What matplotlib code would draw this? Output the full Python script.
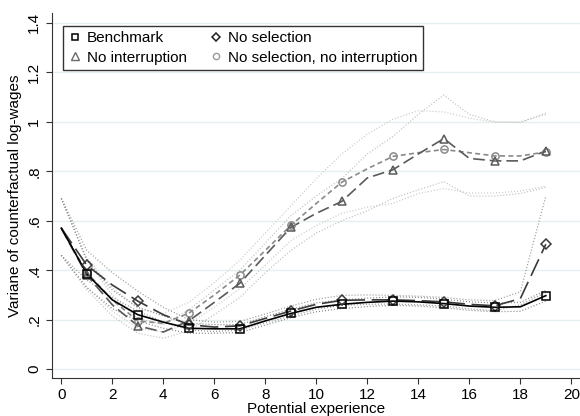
import matplotlib.pyplot as plt

plt.rcParams['font.family'] = ['Liberation Sans', 'DejaVu Sans']

exper = list(range(20))
marker_exper = list(range(1, 20, 2))

# point estimates
bench = [0.57, 0.385, 0.28, 0.22, 0.19, 0.165, 0.163, 0.163, 0.195, 0.225,
         0.25, 0.262, 0.27, 0.275, 0.272, 0.265, 0.255, 0.25, 0.252, 0.297]
nosel = [0.57, 0.42, 0.34, 0.275, 0.22, 0.18, 0.17, 0.175, 0.205, 0.235,
         0.262, 0.278, 0.28, 0.28, 0.277, 0.272, 0.262, 0.256, 0.285, 0.505]
noint = [0.57, 0.38, 0.26, 0.175, 0.15, 0.195, 0.27, 0.347, 0.46, 0.573,
         0.63, 0.678, 0.773, 0.806, 0.87, 0.932, 0.852, 0.842, 0.842, 0.882]
noboth = [0.57, 0.39, 0.28, 0.195, 0.185, 0.226, 0.30, 0.38, 0.48, 0.581,
          0.67, 0.756, 0.81, 0.86, 0.875, 0.888, 0.875, 0.862, 0.862, 0.878]

# confidence bands
bench_lo = [0.46, 0.33, 0.245, 0.195, 0.165, 0.145, 0.145, 0.148, 0.178, 0.208,
            0.232, 0.245, 0.253, 0.258, 0.255, 0.248, 0.238, 0.232, 0.234, 0.275]
bench_hi = [0.69, 0.44, 0.32, 0.25, 0.215, 0.185, 0.18, 0.18, 0.212, 0.242,
            0.268, 0.28, 0.287, 0.292, 0.29, 0.283, 0.272, 0.268, 0.27, 0.318]
nosel_lo = [0.46, 0.36, 0.29, 0.235, 0.19, 0.158, 0.152, 0.158, 0.187, 0.215,
            0.242, 0.258, 0.262, 0.263, 0.26, 0.255, 0.244, 0.236, 0.26, 0.31]
nosel_hi = [0.69, 0.48, 0.39, 0.315, 0.25, 0.2, 0.19, 0.193, 0.223, 0.255,
            0.282, 0.298, 0.3, 0.298, 0.295, 0.29, 0.28, 0.277, 0.313, 0.70]
noint_lo = [0.46, 0.32, 0.215, 0.145, 0.125, 0.155, 0.22, 0.29, 0.39, 0.48,
            0.55, 0.60, 0.64, 0.69, 0.725, 0.758, 0.70, 0.70, 0.71, 0.735]
noint_hi = [0.69, 0.44, 0.30, 0.205, 0.18, 0.24, 0.32, 0.40, 0.51, 0.62,
            0.70, 0.77, 0.87, 0.94, 1.03, 1.108, 1.03, 1.0, 0.997, 1.035]
noboth_lo = [0.46, 0.33, 0.235, 0.165, 0.15, 0.185, 0.25, 0.325, 0.42, 0.52,
             0.58, 0.63, 0.655, 0.67, 0.71, 0.73, 0.712, 0.712, 0.72, 0.74]
noboth_hi = [0.69, 0.45, 0.33, 0.245, 0.225, 0.27, 0.35, 0.44, 0.55, 0.66,
             0.77, 0.87, 0.95, 1.01, 1.045, 1.04, 1.015, 0.998, 1.0, 1.03]

yticks = [0, 0.2, 0.4, 0.6, 0.8, 1.0, 1.2, 1.4]
ytick_labels = ['0', '.2', '.4', '.6', '.8', '1', '1.2', '1.4']
xticks = list(range(0, 21, 2))

fig = plt.figure(figsize=(5.8, 4.16), dpi=100)
ax = fig.add_axes([0.089, 0.0913, 0.911, 0.8775])

for y in yticks:
    ax.axhline(y, color='#e6eef0', lw=1.0, zorder=0)

# bands
dots = (0, (0.8, 1.6))
for lo, hi, c in [(noint_lo, noint_hi, '#bcbcbc'), (noboth_lo, noboth_hi, '#c8c8c8'),
                  (nosel_lo, nosel_hi, '#959595'), (bench_lo, bench_hi, '#858585')]:
    ax.plot(exper, lo, color=c, lw=0.9, ls=dots, zorder=1)
    ax.plot(exper, hi, color=c, lw=0.9, ls=dots, zorder=1)

series = [
    (noboth, '#8a8a8a', (0, (3, 2)), 'o', 5.2),
    (noint, '#5a5a5a', (0, (7, 3)), '^', 6.2),
    (nosel, '#3a3a3a', (0, (11, 4)), 'D', 5),
    (bench, '#000000', '-', 's', 5.4),
]
for vals, c, ls, m, ms in series:
    ax.plot(exper, vals, color=c, lw=1.2, ls=ls, zorder=3)
    mvals = [vals[i] for i in marker_exper]
    ax.plot(marker_exper, mvals, ls='none', marker=m, ms=ms, mfc='none',
            mec=c, mew=1.1, zorder=4)

ax.set_xlim(-0.38, 20.34)
ax.set_ylim(-0.036, 1.44)
ax.set_xticks(xticks)
ax.set_yticks(yticks)
ax.set_yticklabels(ytick_labels, rotation=90, va='center')
ax.tick_params(labelsize=11, length=4, color='#333333')
for s in ['top', 'right']:
    ax.spines[s].set_visible(False)
for s in ['left', 'bottom']:
    ax.spines[s].set_color('#333333')

ax.set_xlabel('Potential experience', fontsize=11, labelpad=0)
ax.set_ylabel('Variane of counterfactual log-wages', fontsize=11, labelpad=4)

handles = [
    plt.Line2D([], [], ls='none', marker='s', ms=5, mfc='none', mec='#000000', mew=1.1),
    plt.Line2D([], [], ls='none', marker='^', ms=5.5, mfc='none', mec='#6a6a6a', mew=1.0),
    plt.Line2D([], [], ls='none', marker='D', ms=4.5, mfc='none', mec='#222222', mew=1.1),
    plt.Line2D([], [], ls='none', marker='o', ms=4.5, mfc='none', mec='#9a9a9a', mew=1.0),
]
labels = ['Benchmark', 'No interruption', 'No selection', 'No selection, no interruption']
leg = ax.legend(handles, labels, ncol=2, loc='upper left', bbox_to_anchor=(0.008, 0.985),
                fontsize=11, frameon=True, fancybox=False, handlelength=0.8,
                handletextpad=0.4, columnspacing=1.5, labelspacing=0.35, borderpad=0.35)
leg.get_frame().set_edgecolor('#000000')
leg.get_frame().set_linewidth(1.0)

fig.savefig('out.png', dpi=100)
